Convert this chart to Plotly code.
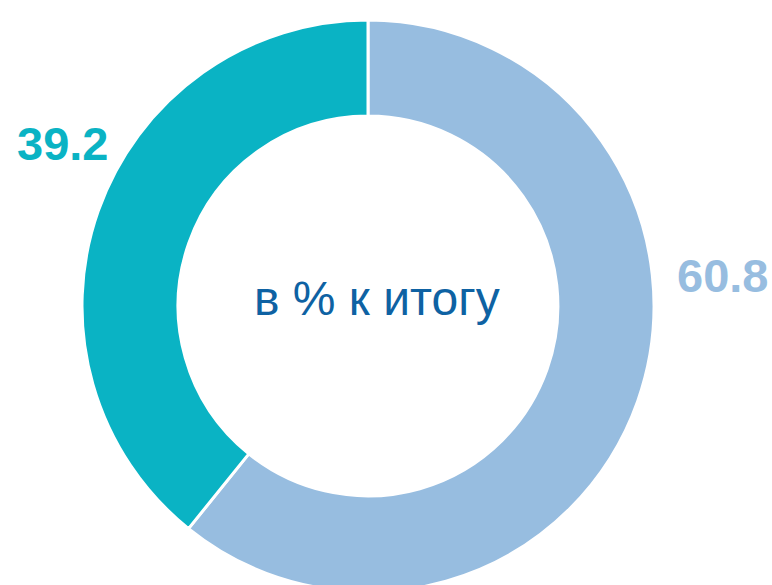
import plotly.graph_objects as go

labels = ["Группа 2", "Группа 1"]
values = [60.8, 39.2]
colors = ["#97BDE0", "#0AB3C4"]
center_text = "в % к итогу"

W, H = 772, 612

fig = go.Figure(go.Pie(
    labels=labels,
    values=values,
    hole=0.664,
    sort=False,
    direction="clockwise",
    rotation=0,
    marker=dict(colors=colors, line=dict(color="white", width=3)),
    textinfo="none",
    hoverinfo="none",
    showlegend=False,
    domain=dict(x=[0, 736 / W], y=[20 / H, 592 / H]),
))

label_pos = [(722, 275), (62.5, 143.5)]
for v, c, (px, py) in zip(values, colors, label_pos):
    fig.add_annotation(
        x=px / W, y=1 - py / H, xref="paper", yref="paper",
        text=f"<b>{v}</b>", showarrow=False,
        xanchor="center", yanchor="middle",
        font=dict(family="Liberation Sans, Arial", size=47, color=c),
    )

fig.add_annotation(
    x=377 / W, y=1 - 298 / H, xref="paper", yref="paper",
    text=center_text, showarrow=False,
    xanchor="center", yanchor="middle",
    font=dict(family="Liberation Sans, Arial", size=48, color="#0E62A3"),
)

fig.update_layout(
    width=W, height=H,
    margin=dict(l=0, r=0, t=0, b=0),
    paper_bgcolor="white", plot_bgcolor="white",
)

fig.write_html(
    "out.html",
    config={"displayModeBar": False, "responsive": False},
    post_script="document.body.style.margin='0';document.body.style.overflow='hidden';document.documentElement.style.overflow='hidden';",
)
